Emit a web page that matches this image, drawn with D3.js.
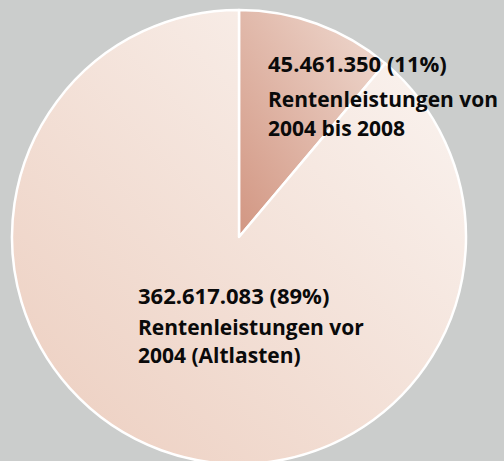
<!DOCTYPE html>
<html>
<head>
<meta charset="utf-8">
<script src="https://cdn.jsdelivr.net/npm/d3@7"></script>
<style>
  body { margin: 0; background: #cbcdcc; }
  svg { display: block; }
</style>
</head>
<body>
<svg id="chart"></svg>
<script>
const values = [45461350, 362617083];
const valueLabels = ["45.461.350 (11%)", "362.617.083 (89%)"];
const nameLines = [
  ["Rentenleistungen von", "2004 bis 2008"],
  ["Rentenleistungen vor", "2004 (Altlasten)"]
];

const width = 504, height = 461;
const cx = 239, cy = 237, radius = 227;

const svg = d3.select("#chart").attr("width", width).attr("height", height);
svg.append("rect").attr("width", width).attr("height", height).attr("fill", "#cbcdcc");

const defs = svg.append("defs");
const grads = [
  ["#d29682", "#f0dcd3"],
  ["#eccdbe", "#fbf6f3"]
];
grads.forEach((g, i) => {
  const lg = defs.append("linearGradient").attr("id", "g" + i)
    .attr("x1", 0).attr("y1", 1).attr("x2", 1).attr("y2", 0);
  lg.append("stop").attr("offset", "0%").attr("stop-color", g[0]);
  lg.append("stop").attr("offset", "100%").attr("stop-color", g[1]);
});

const pie = d3.pie().sort(null)(values);
const arc = d3.arc().innerRadius(0).outerRadius(radius);

const group = svg.append("g").attr("transform", `translate(${cx},${cy})`);
group.selectAll("path").data(pie).join("path")
  .attr("d", arc)
  .attr("fill", (d, i) => `url(#g${i})`)
  .attr("stroke", "#fff")
  .attr("stroke-width", 2.5)
  .attr("stroke-linejoin", "round");

// label positions, relative to pie centre; line offsets per label
const labelPos = [[29, -165], [-101, 67]];
const lineOffsets = [[35, 64], [31, 59]];
const lab = svg.append("g").attr("font-family", "'Open Sans', sans-serif")
  .attr("font-weight", "bold").attr("fill", "#0a0a0a");
labelPos.forEach((p, i) => {
  const t = lab.append("g").attr("transform", `translate(${cx + p[0]},${cy + p[1]})`);
  t.append("text").attr("font-size", 22).text(valueLabels[i]);
  nameLines[i].forEach((l, j) => {
    t.append("text").attr("font-size", 21).attr("y", lineOffsets[i][j]).text(l);
  });
});
</script>
</body>
</html>
